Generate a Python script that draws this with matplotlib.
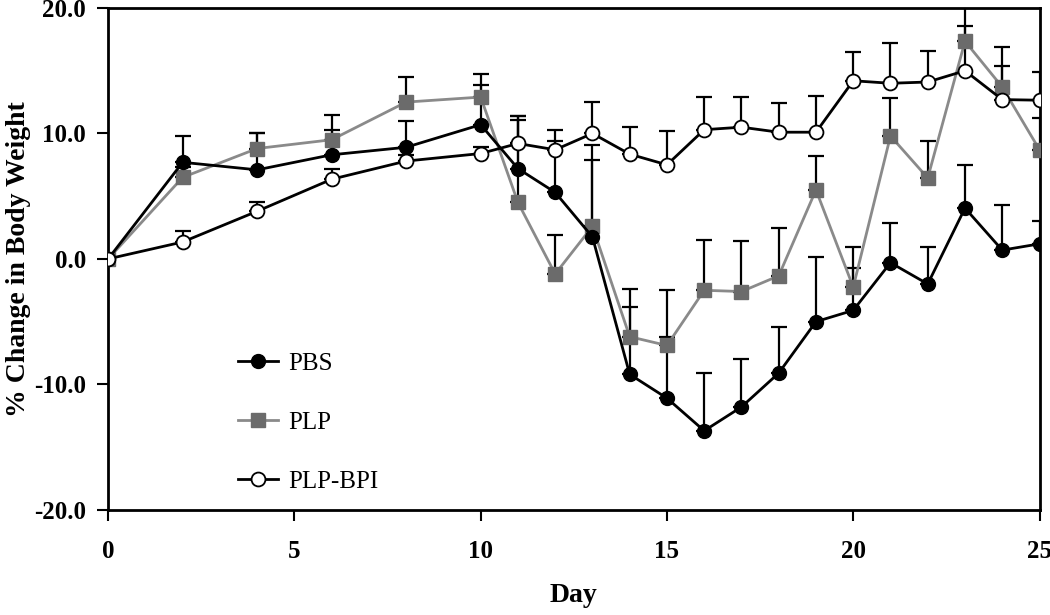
import numpy as np
import matplotlib
matplotlib.use("Agg")
import matplotlib.pyplot as plt

days = [0, 2, 4, 6, 8, 10, 11, 12, 13, 14, 15, 16, 17, 18, 19, 20, 21, 22, 23, 24, 25]

pbs = [0.0, 7.7, 7.1, 8.3, 8.9, 10.7, 7.2, 5.3, 1.75, -9.2, -11.1, -13.7, -11.8, -9.1,
       -5.0, -4.1, -0.3, -2.0, 4.05, 0.7, 1.2]
pbs_err = [0.0, 2.1, 2.9, 2.0, 2.1, 3.2, 4.2, 4.1, 6.1, 6.8, 4.9, 4.6, 3.8, 3.7,
           5.15, 3.4, 3.2, 2.95, 3.45, 3.6, 1.8]

plp = [0.0, 6.5, 8.8, 9.5, 12.5, 12.9, 4.5, -1.2, 2.6, -6.2, -6.9, -2.5, -2.6, -1.35,
       5.5, -2.25, 9.8, 6.45, 17.35, 13.7, 8.7]
plp_err = [0.0, 0.8, 1.2, 2.0, 2.0, 1.8, 6.6, 3.1, 6.5, 2.4, 4.4, 4.0, 4.0, 3.8,
           2.7, 3.2, 3.0, 2.95, 3.4, 3.2, 2.5]

bpi = [0.0, 1.35, 3.8, 6.35, 7.8, 8.4, 9.2, 8.7, 10.0, 8.35, 7.5, 10.3, 10.5, 10.1,
       10.1, 14.2, 14.0, 14.1, 15.0, 12.7, 12.65]
bpi_err = [0.0, 0.85, 0.7, 0.85, 0.5, 0.5, 2.2, 1.55, 2.5, 2.2, 2.7, 2.6, 2.4, 2.3,
           2.9, 2.3, 3.2, 2.5, 3.6, 2.7, 2.25]

plt.rcParams['font.family'] = ['Liberation Serif', 'DejaVu Serif']

fig = plt.figure(figsize=(10.5, 6.15), dpi=100)
ax = fig.add_axes([0.103, 0.171, 0.887, 0.816])

zeros = np.zeros(len(days))
for vals, err in [(pbs, pbs_err), (plp, plp_err), (bpi, bpi_err)]:
    ax.errorbar(days, vals, yerr=[zeros, err], fmt='none', ecolor='black',
                elinewidth=1.6, capsize=6, capthick=1.6, zorder=2)

ax.plot(days, pbs, color='black', lw=2, marker='o', ms=10, mfc='black', mec='black',
        label='PBS', zorder=4)
ax.plot(days, plp, color='#8a8a8a', lw=2, marker='s', ms=10, mfc='#6b6b6b', mec='#6b6b6b',
        label='PLP', zorder=3)
ax.plot(days, bpi, color='black', lw=2, marker='o', ms=10, mfc='white', mec='black',
        mew=1.3, label='PLP-BPI', zorder=5)

ax.set_xlim(0, 25)
ax.set_ylim(-20, 20)
ax.set_xticks([0, 5, 10, 15, 20, 25])
ax.set_yticks([-20, -10, 0, 10, 20])
ax.set_yticklabels(['-20.0', '-10.0', '0.0', '10.0', '20.0'])

for s in ax.spines.values():
    s.set_linewidth(2)
ax.tick_params(axis='both', direction='out', length=8, width=1.5, labelsize=18)
ax.tick_params(axis='x', pad=14)
ax.tick_params(axis='y', pad=8)
for lab in ax.get_xticklabels() + ax.get_yticklabels():
    lab.set_fontweight('bold')

ax.set_xlabel('Day', fontsize=20, fontweight='bold', labelpad=14)
ax.set_ylabel('% Change in Body Weight', fontsize=20, fontweight='bold', labelpad=2)

ax.legend(loc='upper left', bbox_to_anchor=(0.115, 0.358), frameon=False, fontsize=18,
          labelspacing=1.45, handlelength=1.6, handletextpad=0.4)

fig.savefig('out.png', dpi=100)
